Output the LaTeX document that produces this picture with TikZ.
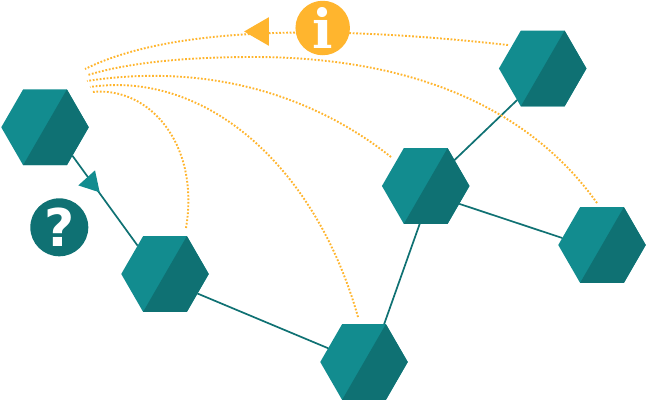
\documentclass[tikz,border=0pt]{standalone}
\usepackage{fontspec}
\setmainfont{DejaVu Serif}
\newfontfamily\qfont{DejaVu Sans}
\usetikzlibrary{shapes.geometric}
\definecolor{hexlight}{HTML}{128C8F}
\definecolor{hexdark}{HTML}{0F7173}
\definecolor{gold}{HTML}{FFB52E}
\tikzset{
  hexa/.style={regular polygon,regular polygon sides=6,minimum size=87.5pt,inner sep=0pt,outer sep=0pt,fill=hexlight},
  hexshade/.style={fill=hexdark},
  link/.style={draw=hexdark,line width=1.7pt},
  hint/.style={draw=gold,line width=1.9pt,dash pattern=on 1.75pt off 1.75pt},
  tri/.style={regular polygon,regular polygon sides=3,inner sep=0pt,outer sep=0pt},
  badge/.style={circle,inner sep=0pt,outer sep=0pt},
  glyph/.style={inner sep=0pt,outer sep=0pt,text=white},
}
\newcommand{\hexnode}[2]{%
  \node[hexa] (#1) at (#2) {};
  \fill[hexshade] (#1.center) ++(21.9,-37.9) -- ++(21.85,37.9) -- ++(-21.85,37.9) -- ++(-43.8,0) -- cycle;
}
\begin{document}
\begin{tikzpicture}[x=1pt,y=-1pt]
\useasboundingbox (0,0) rectangle (646,402);
\clip (0,0) rectangle (646,402);
\hexnode{a}{45,127.3}
\hexnode{b}{165,274}
\hexnode{c}{364,362}
\hexnode{d}{425.7,186}
\hexnode{e}{542.7,68.5}
\hexnode{f}{602,245}
\draw[link] (a.-46) -- (b.134);
\draw[link] (b.-31) -- (c.159);
\draw[link] (d.-99) -- (c.62);
\draw[link] (d.42) -- (e.231);
\draw[link] (d.-28) -- (f.170);
% free ends of the dotted curves
\coordinate (h1) at (85,69);
\coordinate (h2) at (88,75);
\coordinate (h3) at (87,81);
\coordinate (h4) at (90,87);
\coordinate (h5) at (92,92);
\coordinate (t1) at (508,45);
\coordinate (t2) at (597,203);
\coordinate (p2) at (253,57);
\coordinate (t3) at (391,157);
\coordinate (t4) at (358,317);
\coordinate (t5) at (186,228);
\draw[hint] (t1) .. controls (390,32) and (190,17) .. (h1);
\draw[hint] (t2) .. controls (520,95) and (390,57) .. (p2) .. controls (190,57) and (130,62) .. (h2);
\draw[hint] (t3) .. controls (300,85) and (190,65) .. (h3);
\draw[hint] (t4) .. controls (315,165) and (205,70) .. (h4);
\draw[hint] (t5) .. controls (200,145) and (150,86) .. (h5);
% arrowheads
\node[tri,fill=gold,minimum size=33pt,shape border rotate=90] (goldtip) at (260.6,31.5) {};
\node[tri,fill=hexlight,minimum size=26pt,shape border rotate=-138] (tealtip) at (91,182.7) {};
% badges
\node[badge,fill=gold,minimum size=54.5pt] (info) at (322.7,28) {};
\node[glyph,font=\fontsize{54}{54}\selectfont\bfseries] (infotext) at (info) {i};
\node[badge,fill=hexdark,minimum size=58pt] (help) at (59.3,227.3) {};
\node[glyph,font=\fontsize{52}{52}\selectfont\qfont\bfseries] (helptext) at (help) {?};
\end{tikzpicture}
\end{document}
